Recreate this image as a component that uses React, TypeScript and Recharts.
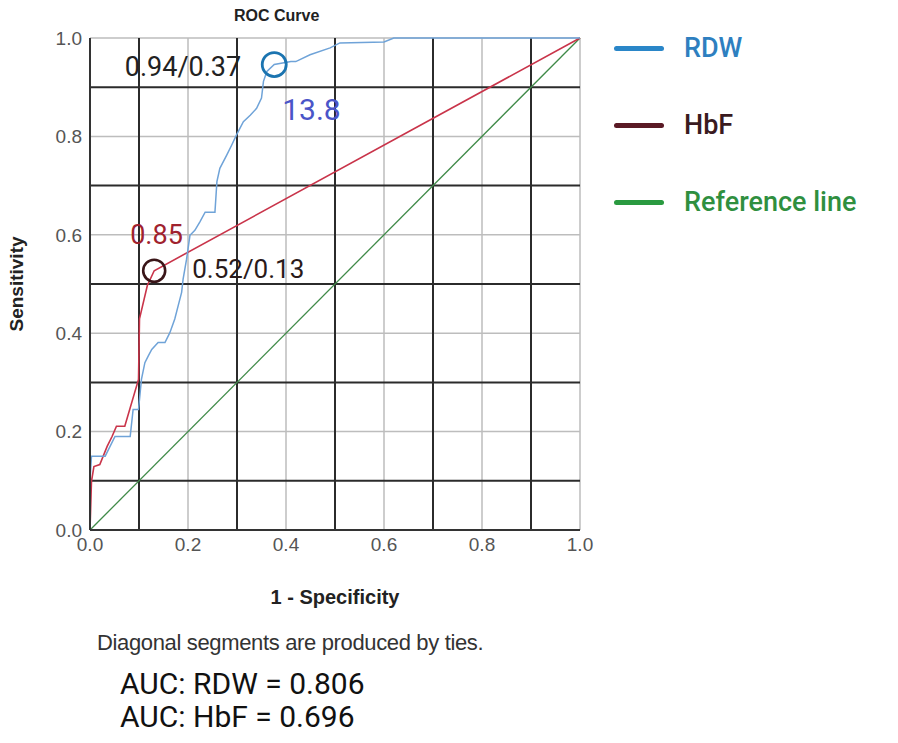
import {
  LineChart, Line, XAxis, YAxis, ReferenceLine, ReferenceDot,
} from "recharts";

// ROC points as [1 - specificity, sensitivity]
const rdwFpr = [0, 0, 0.003, 0.031, 0.051, 0.082, 0.088, 0.099, 0.105, 0.112, 0.119, 0.126, 0.139, 0.153, 0.163, 0.173, 0.18, 0.187, 0.19, 0.197, 0.204, 0.214, 0.224, 0.235, 0.255, 0.259, 0.265, 0.279, 0.289, 0.299, 0.313, 0.327, 0.34, 0.35, 0.354, 0.361, 0.376, 0.41, 0.42, 0.449, 0.49, 0.51, 0.6, 0.62, 1.0];
const rdwSens = [0, 0.1, 0.15, 0.15, 0.19, 0.19, 0.245, 0.245, 0.306, 0.34, 0.354, 0.367, 0.381, 0.381, 0.401, 0.429, 0.456, 0.483, 0.51, 0.55, 0.599, 0.609, 0.626, 0.646, 0.646, 0.708, 0.735, 0.762, 0.782, 0.803, 0.83, 0.843, 0.857, 0.878, 0.912, 0.932, 0.946, 0.952, 0.952, 0.966, 0.98, 0.99, 0.992, 1.0, 1.0];

const hbfFpr = [0, 0.003, 0.008, 0.02, 0.035, 0.045, 0.054, 0.071, 0.099, 0.101, 0.117, 0.131, 1.0];
const hbfSens = [0, 0.099, 0.129, 0.133, 0.17, 0.19, 0.211, 0.211, 0.306, 0.429, 0.497, 0.527, 1.0];

const refFpr = [0, 1];
const refSens = [0, 1];

const ticks = [0, 0.2, 0.4, 0.6, 0.8, 1.0];
const darkGrid = [0.1, 0.3, 0.5, 0.7, 0.9];
const lightGrid = [0.2, 0.4, 0.6, 0.8, 1.0];

// cut-off points
const rdwCut = { fpr: 0.376, sens: 0.946, pair: "0.94/0.37", value: "13.8" };
const hbfCut = { fpr: 0.131, sens: 0.527, pair: "0.52/0.13", value: "0.85" };

const aucLines = ["AUC: RDW = 0.806", "AUC: HbF = 0.696"];

const legendItems = [
  { name: "RDW", line: "#2a86c8", text: "#2e7fc0" },
  { name: "HbF", line: "#5a1a25", text: "#3a1a20" },
  { name: "Reference line", line: "#2a9a40", text: "#2f8f3f" },
];

const toPoints = (xs: number[], ys: number[]) => xs.map((x, i) => ({ x, y: ys[i] }));

const rdwData = toPoints(rdwFpr, rdwSens);
const hbfData = toPoints(hbfFpr, hbfSens);
const refData = toPoints(refFpr, refSens);

const annot = "Roboto, sans-serif";
const arial = "'Liberation Sans', Arial, sans-serif";

const App = () => {
  return (
    <div style={{ position: "absolute", left: 0, top: 0, width: 898, height: 743, background: "#fff" }}>
      <div style={{ position: "absolute", left: 234, top: 7, fontFamily: arial, fontWeight: 700, fontSize: 16, color: "#222" }}>
        ROC Curve
      </div>
      <LineChart width={898} height={743} margin={{ top: 38, right: 318, left: 50, bottom: 183 }}>
        <XAxis
          type="number" dataKey="x" domain={[0, 1]} ticks={ticks}
          tickFormatter={(v: number) => v.toFixed(1)}
          axisLine={{ stroke: "#333", strokeWidth: 2 }} tickLine={false}
          tick={{ fontSize: 19, fill: "#555", fontFamily: arial }} height={30}
          label={{ value: "1 - Specificity", position: "insideBottom", offset: -44, style: { fontFamily: arial, fontWeight: 700, fontSize: 20, fill: "#222" } }}
        />
        <YAxis
          type="number" domain={[0, 1]} ticks={ticks} width={40}
          tickFormatter={(v: number) => v.toFixed(1)}
          axisLine={{ stroke: "#333", strokeWidth: 2 }} tickLine={false}
          tick={{ fontSize: 19, fill: "#555", fontFamily: arial }}
          label={{ value: "Sensitivity", angle: -90, position: "insideLeft", offset: -34, style: { textAnchor: "middle", fontFamily: arial, fontWeight: 700, fontSize: 19, fill: "#222" } }}
        />
        {lightGrid.map((v) => (
          <ReferenceLine key={"lx" + v} x={v} stroke="#bdbdbd" strokeWidth={1.5} />
        ))}
        {lightGrid.map((v) => (
          <ReferenceLine key={"ly" + v} y={v} stroke="#bdbdbd" strokeWidth={1.5} />
        ))}
        {darkGrid.map((v) => (
          <ReferenceLine key={"dx" + v} x={v} stroke="#2b2b2b" strokeWidth={2} />
        ))}
        {darkGrid.map((v) => (
          <ReferenceLine key={"dy" + v} y={v} stroke="#2b2b2b" strokeWidth={2} />
        ))}
        <Line data={refData} dataKey="y" name="Reference line" stroke="#3f8a48" strokeWidth={1.3} dot={false} isAnimationActive={false} />
        <Line data={hbfData} dataKey="y" name="HbF" stroke="#c9344a" strokeWidth={1.6} dot={false} isAnimationActive={false} />
        <Line data={rdwData} dataKey="y" name="RDW" stroke="#6fa3d8" strokeWidth={1.5} dot={false} isAnimationActive={false} />
        <ReferenceDot
          x={rdwCut.fpr} y={rdwCut.sens} r={12}
          shape={(p: any) => (
            <g>
              <circle cx={p.cx} cy={p.cy} r={12} fill="none" stroke="#1b74b0" strokeWidth={2.8} />
              <text x={p.cx - 33} y={p.cy + 11} textAnchor="end" fontFamily={annot} fontSize={27} fill="#222">{rdwCut.pair}</text>
              <text x={p.cx + 8} y={p.cy + 55} fontFamily={annot} fontSize={30} fill="#4a55c8">{rdwCut.value}</text>
            </g>
          )}
        />
        <ReferenceDot
          x={hbfCut.fpr} y={hbfCut.sens} r={11}
          shape={(p: any) => (
            <g>
              <circle cx={p.cx} cy={p.cy} r={11} fill="none" stroke="#3a1518" strokeWidth={2.6} />
              <text x={p.cx + 38} y={p.cy + 7} fontFamily={annot} fontSize={26} fill="#2a1a1a">{hbfCut.pair}</text>
              <text x={p.cx - 24} y={p.cy - 27} fontFamily={annot} fontSize={27} fill="#a0222e">{hbfCut.value}</text>
            </g>
          )}
        />
      </LineChart>
      {legendItems.map((it, i) => (
        <div key={it.name} style={{ position: "absolute", left: 614, top: 28 + i * 77, height: 40, display: "flex", alignItems: "center", fontFamily: annot, fontWeight: 500 }}>
          <div style={{ width: 50, height: 5, borderRadius: 3, background: it.line, marginRight: 20 }} />
          <span style={{ fontSize: 27, color: it.text }}>{it.name}</span>
        </div>
      ))}
      <div style={{ position: "absolute", left: 97, top: 630, fontFamily: arial, fontSize: 22, color: "#333", letterSpacing: -0.35 }}>
        Diagonal segments are produced by ties.
      </div>
      {aucLines.map((t, i) => (
        <div key={t} style={{ position: "absolute", left: 120, top: 666 + i * 33, fontFamily: annot, fontSize: 30, lineHeight: "36px", color: "#111" }}>
          {t}
        </div>
      ))}
    </div>
  );
};

export default App;
